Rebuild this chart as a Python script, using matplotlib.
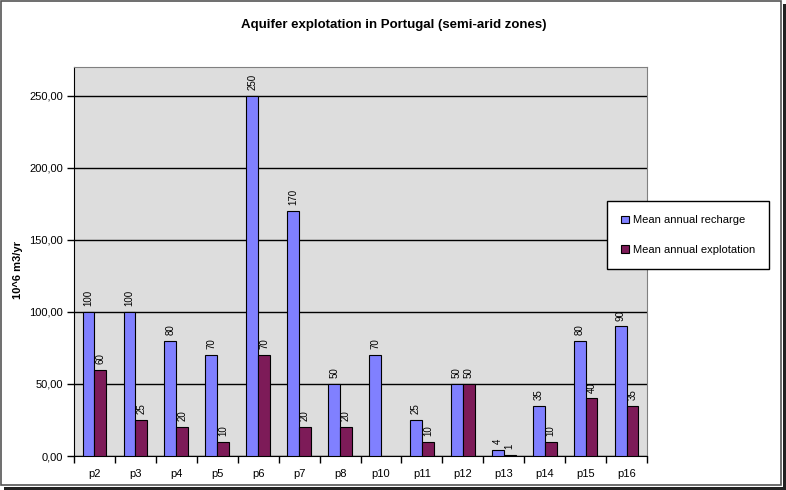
import numpy as np
import matplotlib.pyplot as plt
from matplotlib.patches import Rectangle

plt.rcParams['font.family'] = ['Liberation Sans', 'DejaVu Sans']

sites = ['p2', 'p3', 'p4', 'p5', 'p6', 'p7', 'p8', 'p10', 'p11', 'p12', 'p13', 'p14', 'p15', 'p16']
recharge = [100, 100, 80, 70, 250, 170, 50, 70, 25, 50, 4, 35, 80, 90]
explot = [60, 25, 20, 10, 70, 20, 20, np.nan, 10, 50, 1, 10, 40, 35]

blue = '#8080FF'
maroon = '#7D1B58'

fig = plt.figure(figsize=(7.86, 4.90), dpi=100)
W, H = 786, 490
ax = fig.add_axes([74 / W, (H - 456) / H, 573 / W, 389 / H])
ax.set_facecolor('#DDDDDD')

x = np.arange(len(sites))
w = 0.29
b1 = ax.bar(x - w / 2, recharge, w, color=blue, edgecolor='black', linewidth=0.8,
            label='Mean annual recharge', zorder=3)
b2 = ax.bar(x + w / 2, explot, w, color=maroon, edgecolor='black', linewidth=0.8,
            label='Mean annual explotation', zorder=3)

for xi, v in zip(x - w / 2, recharge):
    ax.text(xi, v + 4, f'{v:g}', rotation=90, ha='center', va='bottom', fontsize=7)
for xi, v in zip(x + w / 2, explot):
    if not np.isnan(v):
        ax.text(xi, v + 4, f'{v:g}', rotation=90, ha='center', va='bottom', fontsize=7)

ax.set_xlim(-0.5, len(sites) - 0.5)
ax.set_ylim(0, 270)
ax.set_yticks(np.arange(0, 251, 50))
ax.set_yticklabels([f'{v:.2f}'.replace('.', ',') for v in np.arange(0, 251, 50)], fontsize=8)
ax.yaxis.grid(True, color='black', linewidth=1)
ax.set_axisbelow(True)

ax.set_xticks(x)
ax.set_xticklabels(sites, fontsize=8)
ax.tick_params(axis='x', which='major', length=0, pad=9)
ax.set_xticks(np.arange(-0.5, len(sites), 1), minor=True)
ax.tick_params(axis='x', which='minor', length=5, width=1, direction='out')
ax.tick_params(axis='y', length=5, width=1, direction='out', pad=3)

for s in ['top', 'right']:
    ax.spines[s].set_color('#808080')
ax.spines['left'].set_color('black')
ax.spines['bottom'].set_color('black')

fig.text(394 / W, 1 - 25 / H, 'Aquifer explotation in Portugal (semi-arid zones)',
         ha='center', va='center', fontsize=9.5, fontweight='bold')
fig.text(18 / W, 1 - 270 / H, '10^6 m3/yr', rotation=90, ha='center', va='center',
         fontsize=8, fontweight='bold')

leg = fig.legend(handles=[b1, b2], loc='center left',
                 bbox_to_anchor=(607 / W, 1 - 235 / H), fontsize=8,
                 frameon=True, fancybox=False, edgecolor='black', framealpha=1,
                 handlelength=0.65, handleheight=0.65, handletextpad=0.35,
                 labelspacing=1.75, borderpad=1.3, borderaxespad=0)
leg.get_frame().set_linewidth(1)

# chart border with shadow
fig.patches.append(Rectangle((1 / W, 5 / H), (W - 6) / W, (H - 6) / H, transform=fig.transFigure,
                             facecolor='none', edgecolor='#555555', linewidth=1.2))
fig.patches.append(Rectangle((783 / W, 0), 3 / W, (H - 4) / H, transform=fig.transFigure,
                             facecolor='#222222', edgecolor='none'))
fig.patches.append(Rectangle((4 / W, 0), (W - 4) / W, 3 / H, transform=fig.transFigure,
                             facecolor='#222222', edgecolor='none'))

plt.savefig('out.png', dpi=100)
